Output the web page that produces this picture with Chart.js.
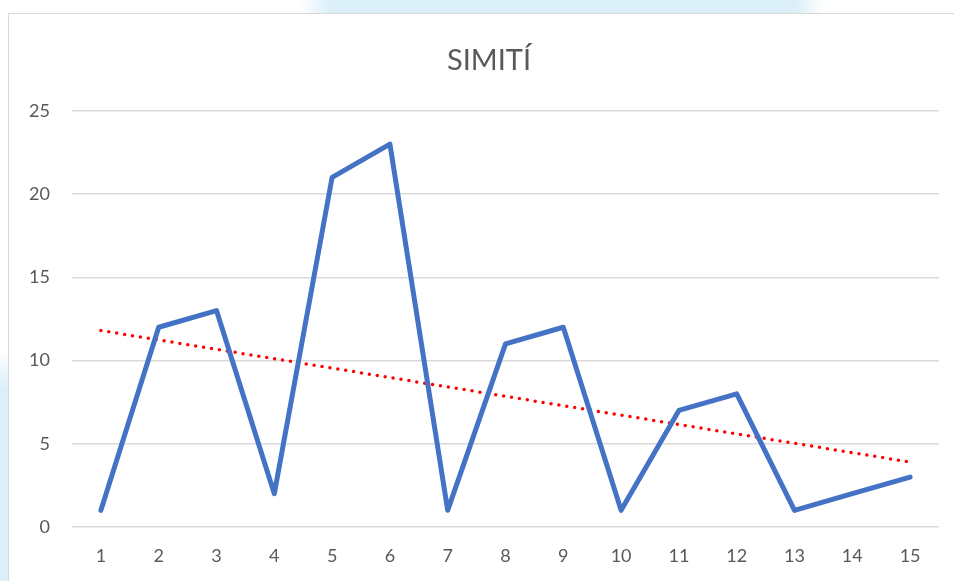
<!DOCTYPE html>
<html>
<head>
<meta charset="utf-8">
<script src="https://cdn.jsdelivr.net/npm/chart.js@4"></script>
<style>
  html, body { margin: 0; padding: 0; background: #fff; overflow: hidden; }
  body { width: 954px; height: 581px; position: relative; }
  .band-top {
    position: absolute; left: 300px; top: 0; width: 525px; height: 14px;
    background: linear-gradient(to right, rgba(218,239,248,0) 0, #daeff8 30px, #daeff8 495px, rgba(218,239,248,0) 525px);
  }
  .band-left {
    position: absolute; left: 0; top: 350px; width: 8px; height: 231px;
    background: linear-gradient(to bottom, rgba(218,239,248,0) 0, #daeff8 40px);
  }
  .box {
    position: absolute; left: 8px; top: 13px; width: 962px; height: 590px;
    border: 1.5px solid #d9d9d9; background: #fff; box-sizing: border-box;
  }
  #chart { position: absolute; left: 8px; top: 13px; }
</style>
</head>
<body>
<div class="band-top"></div>
<div class="band-left"></div>
<div class="box"></div>
<canvas id="chart" width="962" height="580"></canvas>
<script>
// Simití - series and linear trend (endpoints)
const labels = ['1', '2', '3', '4', '5', '6', '7', '8', '9', '10', '11', '12', '13', '14', '15'];
const values = [1, 12, 13, 2, 21, 23, 1, 11, 12, 1, 7, 8, 1, 2, 3];
const trend = [11.8, null, null, null, null, null, null, null, null, null, null, null, null, null, 3.9];
const yTicks = [0, 5, 10, 15, 20, 25];

const textColor = '#595959';
const font = 'Lato, Calibri, Carlito, sans-serif';

new Chart(document.getElementById('chart'), {
    type: 'line',
    data: {
        labels: labels,
        datasets: [
            {
                label: 'Simití',
                data: values,
                borderColor: '#4472c4',
                borderWidth: 5,
                borderJoinStyle: 'round',
                borderCapStyle: 'round',
                pointRadius: 0,
                tension: 0,
                fill: false,
            },
            {
                label: 'Tendencia',
                data: trend,
                spanGaps: true,
                borderColor: '#ff0000',
                borderWidth: 3.5,
                borderDash: [0, 8],
                borderCapStyle: 'round',
                pointRadius: 0,
                tension: 0,
                fill: false,
            }
        ]
    },
    options: {
        responsive: false,
        animation: false,
        layout: { padding: { left: 0, right: 0, top: 0, bottom: 10 } },
        plugins: {
            legend: { display: false },
            tooltip: { enabled: false },
            title: {
                display: true,
                text: 'SIMITÍ',
                color: textColor,
                font: { family: font, size: 29, weight: 'normal' },
                padding: { top: 30, bottom: 33 }
            }
        },
        scales: {
            x: {
                offset: true,
                grid: { display: false, drawTicks: false },
                border: { display: false },
                ticks: { color: textColor, font: { family: font, size: 18 }, padding: 18, maxRotation: 0 },
                afterFit: s => { s.height = 56; s.paddingRight = 31; }
            },
            y: {
                min: 0,
                max: 25,
                afterBuildTicks: s => { s.ticks = yTicks.map(v => ({ value: v })); },
                grid: { color: '#d9d9d9', lineWidth: 1.5, drawTicks: false },
                border: { display: false },
                ticks: { color: textColor, font: { family: font, size: 18 }, padding: 22 },
                afterFit: s => { s.width = 64; }
            }
        }
    }
});
</script>
</body>
</html>
